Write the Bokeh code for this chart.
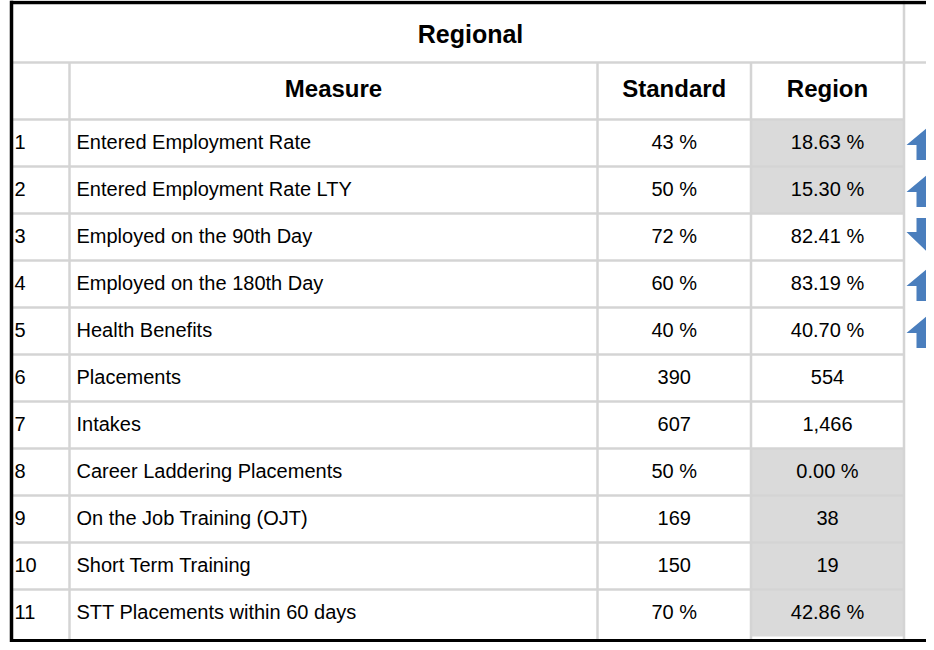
from bokeh.plotting import figure
from bokeh.models import ColumnDataSource, Range1d
from bokeh.core.properties import value
from bokeh.embed import file_html
from bokeh.resources import INLINE

# ---- data ----
title = "Regional"
headers = ["Measure", "Standard", "Region"]
row_numbers = ["1", "2", "3", "4", "5", "6", "7", "8", "9", "10", "11"]
measures = ["Entered Employment Rate", "Entered Employment Rate LTY",
            "Employed on the 90th Day", "Employed on the 180th Day",
            "Health Benefits", "Placements", "Intakes",
            "Career Laddering Placements", "On the Job Training (OJT)",
            "Short Term Training", "STT Placements within 60 days"]
standard = ["43 %", "50 %", "72 %", "60 %", "40 %", "390", "607",
            "50 %", "169", "150", "70 %"]
region = ["18.63 %", "15.30 %", "82.41 %", "83.19 %", "40.70 %", "554", "1,466",
          "0.00 %", "38", "19", "42.86 %"]
below_standard = [True, True, False, False, False, False, False,
                  True, True, True, True]
trend = ["up", "up", "down", "up", "up", "", "", "", "", "", ""]

# ---- layout (pixel coordinates inside the plot) ----
W, H = 926, 642
FONT = "Liberation Sans"
GRID = "#d4d4d4"
SHADE = "#dadada"
ARROW = "#4a7ebd"

x_left = 12.0
x_num_sep = 69.0
x_std_sep = 597.0
x_reg_sep = 750.5
x_right = 903.5
y_title_bottom = 62.0
y_header_bottom = 119.0
row_h = 47.0
n = len(measures)

p = figure(width=W, height=H, x_range=Range1d(0, W), y_range=Range1d(H, 0),
           output_backend="svg", toolbar_location=None, min_border=0,
           outline_line_color=None, background_fill_color="white")
p.axis.visible = False
p.xgrid.visible = False
p.ygrid.visible = False

tops = [y_header_bottom + i * row_h for i in range(n)]
bots = [t + row_h for t in tops]
centers = [(t + b) / 2 for t, b in zip(tops, bots)]

# shaded region cells
sh = [i for i in range(n) if below_standard[i]]
p.quad(left=[x_reg_sep] * len(sh), right=[x_right] * len(sh),
       top=[tops[i] for i in sh], bottom=[bots[i] for i in sh],
       fill_color=SHADE, line_color=None)

# grid lines
hx0, hx1, hy = [], [], []
hx0.append(x_left); hx1.append(W); hy.append(y_title_bottom)
for y in [y_header_bottom] + bots[:-1]:
    hx0.append(x_left); hx1.append(x_right); hy.append(y)
p.segment(x0=hx0, x1=hx1, y0=hy, y1=hy, line_color=GRID, line_width=2.5)
vx = [x_num_sep, x_std_sep, x_reg_sep, x_right]
vy0 = [y_title_bottom, y_title_bottom, y_title_bottom, 0]
p.segment(x0=vx, x1=vx, y0=vy0, y1=[H] * 4, line_color=GRID, line_width=2.5)

# outer black border
p.segment(x0=[x_left - 2, x_left - 1, x_left - 2], x1=[W, x_left - 1, W],
          y0=[2.0, 0, H - 1.75], y1=[2.0, H, H - 1.75],
          line_color="black", line_width=3.5)

# title and headers
p.text(x=[470], y=[y_title_bottom / 2 + 2], text=[title],
       text_font=value(FONT), text_font_style="bold", text_font_size="25px",
       text_align="center", text_baseline="middle", text_color="black")
hdr_x = [(x_num_sep + x_std_sep) / 2, (x_std_sep + x_reg_sep) / 2,
         (x_reg_sep + x_right) / 2]
hdr_y = (y_title_bottom + y_header_bottom) / 2 - 3
p.text(x=hdr_x, y=[hdr_y] * 3, text=headers,
       text_font=value(FONT), text_font_style="bold", text_font_size="24px",
       text_align="center", text_baseline="middle", text_color="black")

# body text
src = ColumnDataSource(dict(y=[c - 1 for c in centers], num=row_numbers,
                            m=measures, s=standard, r=region))
common = dict(text_font=value(FONT), text_font_size="20px",
              text_baseline="middle", text_color="black", source=src)
p.text(x=14, y="y", text="num", text_align="left", **common)
p.text(x=76, y="y", text="m", text_align="left", **common)
p.text(x=(x_std_sep + x_reg_sep) / 2, y="y", text="s", text_align="center", **common)
p.text(x=(x_reg_sep + x_right) / 2, y="y", text="r", text_align="center", **common)

# trend arrows
cx = 930.0
xs, ys = [], []
for c, t in zip(centers, trend):
    if t == "up":
        xs.append([cx, cx + 24, cx + 14, cx + 14, cx - 14, cx - 14, cx - 24])
        ys.append([c - 18, c + 2, c + 2, c + 17, c + 17, c + 2, c + 2])
    elif t == "down":
        xs.append([cx, cx + 24, cx + 14, cx + 14, cx - 14, cx - 14, cx - 24])
        ys.append([c + 18, c - 5, c - 5, c - 19, c - 19, c - 5, c - 5])
p.patches(xs=xs, ys=ys, fill_color=ARROW, line_color=None)

open("out.html", "w").write(file_html(p, INLINE))
